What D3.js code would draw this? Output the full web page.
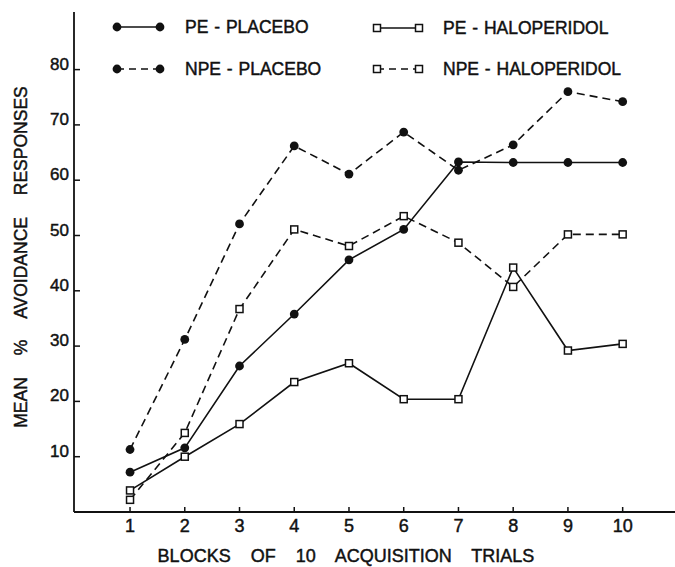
<!DOCTYPE html>
<html lang="en">
<head>
    <meta charset="UTF-8">
    <title>Mean % avoidance responses</title>
    <script src="https://d3js.org/d3.v7.min.js"></script>
    <style>
        body { margin: 0; background: white; }
        text { font-family: "Liberation Sans", Arial, sans-serif; fill: #111; stroke: #111; stroke-width: 0.45px; }
    </style>
</head>
<body>
<script>
    // blocks of 10 acquisition trials
    var blocks = [1, 2, 3, 4, 5, 6, 7, 8, 9, 10];
    var yTicks = [10, 20, 30, 40, 50, 60, 70, 80];

    // mean % avoidance responses per group
    var pePlacebo = [7.2, 11.6, 26.4, 35.8, 45.6, 51.1, 63.3, 63.2, 63.2, 63.2];
    var npePlacebo = [11.3, 31.2, 52.1, 66.2, 61.1, 68.7, 61.8, 66.4, 76.0, 74.2];
    var peHalo = [3.9, 10.0, 15.9, 23.5, 26.9, 20.4, 20.4, 44.2, 29.2, 30.4];
    var npeHalo = [2.2, 14.3, 36.7, 51.1, 48.1, 53.5, 48.7, 40.7, 50.2, 50.2];

    var width = 675, height = 567;
    var svg = d3.select("body").append("svg")
        .attr("width", width)
        .attr("height", height);

    var x = d3.scaleLinear().domain([0, 11]).range([75.3, 677.4]);
    var y = d3.scaleLinear().domain([0, 90]).range([512, 14.3]);

    // axes
    svg.append("line")
        .attr("x1", 74).attr("x2", 675).attr("y1", y(0)).attr("y2", y(0))
        .attr("stroke", "#111").attr("stroke-width", 1.8);
    svg.append("line")
        .attr("x1", 74).attr("x2", 74).attr("y1", y(0)).attr("y2", 12)
        .attr("stroke", "#111").attr("stroke-width", 1.8);

    svg.selectAll(".xtick").data(blocks).enter().append("line")
        .attr("x1", d => x(d)).attr("x2", d => x(d))
        .attr("y1", y(0)).attr("y2", y(0) - 5)
        .attr("stroke", "#111").attr("stroke-width", 1.5);
    svg.selectAll(".xlab").data(blocks).enter().append("text")
        .attr("x", d => x(d)).attr("y", 532)
        .attr("text-anchor", "middle")
        .attr("font-size", 18)
        .text(d => d);

    svg.selectAll(".ytick").data(yTicks).enter().append("line")
        .attr("x1", 74).attr("x2", 80)
        .attr("y1", d => y(d)).attr("y2", d => y(d))
        .attr("stroke", "#111").attr("stroke-width", 1.5);
    svg.selectAll(".ylab").data(yTicks).enter().append("text")
        .attr("x", 69).attr("y", d => y(d))
        .attr("text-anchor", "end")
        .attr("font-size", 17)
        .text(d => d);

    // axis titles
    svg.append("text")
        .attr("x", 346).attr("y", 562)
        .attr("text-anchor", "middle")
        .attr("font-size", 18)
        .style("word-spacing", "15px")
        .text("BLOCKS OF 10 ACQUISITION TRIALS");

    svg.append("text")
        .attr("transform", "translate(27,257) rotate(-90)")
        .attr("text-anchor", "middle")
        .attr("font-size", 17.5)
        .style("word-spacing", "17px")
        .text("MEAN % AVOIDANCE RESPONSES");

    // series
    var series = [
        {name: "PE - PLACEBO", values: pePlacebo, dashed: false, filled: true},
        {name: "NPE - PLACEBO", values: npePlacebo, dashed: true, filled: true},
        {name: "PE - HALOPERIDOL", values: peHalo, dashed: false, filled: false},
        {name: "NPE - HALOPERIDOL", values: npeHalo, dashed: true, filled: false}
    ];

    var line = d3.line().x((d, i) => x(blocks[i])).y(d => y(d));

    function marker(g, cx, cy, filled) {
        if (filled) {
            g.append("circle").attr("cx", cx).attr("cy", cy).attr("r", 4.4)
                .attr("fill", "#111");
        } else {
            g.append("rect").attr("x", cx - 3.5).attr("y", cy - 3.5)
                .attr("width", 7).attr("height", 7)
                .attr("fill", "white").attr("stroke", "#111").attr("stroke-width", 1.5);
        }
    }

    series.forEach(function(s) {
        svg.append("path")
            .attr("d", line(s.values))
            .attr("fill", "none")
            .attr("stroke", "#111")
            .attr("stroke-width", 1.6)
            .attr("stroke-dasharray", s.dashed ? "8,5" : null);
    });
    series.forEach(function(s) {
        var g = svg.append("g");
        s.values.forEach(function(v, i) { marker(g, x(blocks[i]), y(v), s.filled); });
    });

    // legend
    var legendPos = [[117, 27], [117, 69], [377, 28], [377, 69]];
    series.forEach(function(s, i) {
        var lx = legendPos[i][0], ly = legendPos[i][1];
        var len = s.filled ? 43 : 42;
        var g = svg.append("g");
        g.append("line")
            .attr("x1", lx).attr("x2", lx + len).attr("y1", ly).attr("y2", ly)
            .attr("stroke", "#111").attr("stroke-width", 1.6)
            .attr("stroke-dasharray", s.dashed ? "7,5" : null);
        marker(g, lx, ly, s.filled);
        marker(g, lx + len, ly, s.filled);
        g.append("text")
            .attr("x", lx + (s.filled ? 68 : 66)).attr("y", ly + 6)
            .attr("font-size", 17.5)
            .style("word-spacing", "1px")
            .text(s.name);
    });
</script>
</body>
</html>
